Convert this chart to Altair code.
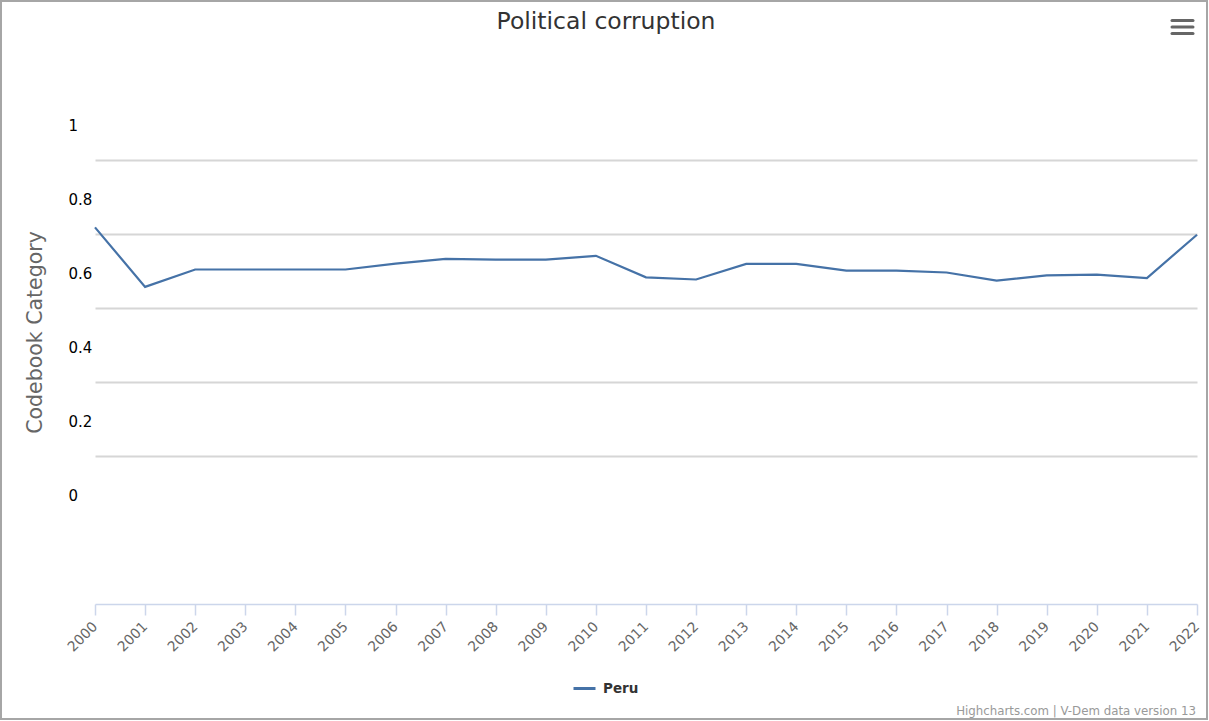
import altair as alt
import pandas as pd

# ---- data ----
years = [2000, 2001, 2002, 2003, 2004, 2005, 2006, 2007, 2008, 2009, 2010, 2011,
         2012, 2013, 2014, 2015, 2016, 2017, 2018, 2019, 2020, 2021, 2022]
peru = [0.718, 0.557, 0.604, 0.604, 0.604, 0.604, 0.620, 0.633, 0.631, 0.631, 0.641, 0.583,
        0.577, 0.619, 0.619, 0.601, 0.601, 0.596, 0.574, 0.588, 0.590, 0.581, 0.698]
series_name = "Peru"
y_ticks = [0, 0.1, 0.2, 0.3, 0.4, 0.5, 0.6, 0.7, 0.8, 0.9, 1.0]
title_text = "Political corruption"
y_title = "Codebook Category"
credits_text = "Highcharts.com | V-Dem data version 13"

df = pd.DataFrame({"year": years, "value": peru, "country": [series_name] * len(years)})

FONT = "DejaVu Sans"
W, H = 1102, 518

line = alt.Chart(df).mark_line(strokeWidth=2.2).encode(
    x=alt.X("year:Q",
            scale=alt.Scale(domain=[2000, 2022], nice=False, zero=False),
            axis=alt.Axis(values=years, format="d", title=None, grid=False,
                          labelAngle=315, labelAlign="right", labelBaseline="middle",
                          labelFontSize=14, labelColor="#666666", labelFont=FONT,
                          labelPadding=9, tickColor="#ccd6eb", tickSize=11, tickWidth=1.5,
                          domainColor="#ccd6eb", domainWidth=1.5, labelOverlap=False,
                          labelBound=False, labelFlush=False)),
    y=alt.Y("value:Q",
            scale=alt.Scale(domain=[-0.3, 1.1], nice=False, zero=False),
            axis=alt.Axis(values=y_ticks, title=y_title,
                          labelExpr="round(datum.value*10) % 2 == 0 ? format(datum.value, '~g') : ''",
                          gridOpacity={"condition": {"test": "round(datum.value*10) % 2 == 1", "value": 1}, "value": 0},
                          gridColor="#d6d6d6", gridWidth=2,
                          ticks=False, tickSize=0, domain=False,
                          labelAlign="left", labelBaseline="middle", labelPadding=27,
                          labelFontSize=15, labelColor="#000000", labelFont=FONT,
                          labelOverlap=False, labelBound=False, labelFlush=False,
                          labelOffset=2,
                          titleFont=FONT, titleFontSize=20.5, titleFontWeight="normal",
                          titleColor="#666666", titleX=-60, titleY=246,
                          titleAlign="center", titleBaseline="middle", titleAngle=270)),
    color=alt.Color("country:N",
                    scale=alt.Scale(domain=[series_name], range=["#4572a7"]),
                    legend=alt.Legend(orient="none", legendX=477, legendY=590, title=None,
                                      symbolType="stroke", symbolSize=484, symbolStrokeWidth=3,
                                      labelFontSize=13.5, labelFontWeight="bold", labelColor="#333333",
                                      labelFont=FONT, labelOffset=6, padding=0)),
)

one = alt.Data(values=[{"k": 1}])

title = alt.Chart(one).mark_text(text=title_text, font=FONT, fontSize=23.5, color="#333333",
                                 align="center", baseline="middle").encode(
    x=alt.value(511), y=alt.value(-64))

credits = alt.Chart(one).mark_text(text=credits_text, font=FONT, fontSize=11.8, color="#999999",
                                   align="right", baseline="alphabetic").encode(
    x=alt.value(1101), y=alt.value(629))

burger = [
    alt.Chart(one).mark_rule(color="#666666", strokeWidth=3, strokeCap="round").encode(
        x=alt.value(1077), x2=alt.value(1098), y=alt.value(yy))
    for yy in (-65.5, -59, -52.5)
]

border = alt.Chart(one).mark_rect(fill="transparent", stroke="#a6a6a6", strokeWidth=2).encode(
    x=alt.value(-94), x2=alt.value(1112), y=alt.value(-85), y2=alt.value(633))

chart = alt.layer(line, title, credits, border, *burger).properties(
    width=W, height=H,
    padding={"left": 95, "top": 86, "right": 12, "bottom": 117},
    autosize=alt.AutoSizeParams(type="none"),
    background="white",
).configure_view(stroke=None)

chart.save("out.html", embed_options={"renderer": "svg", "actions": False})
